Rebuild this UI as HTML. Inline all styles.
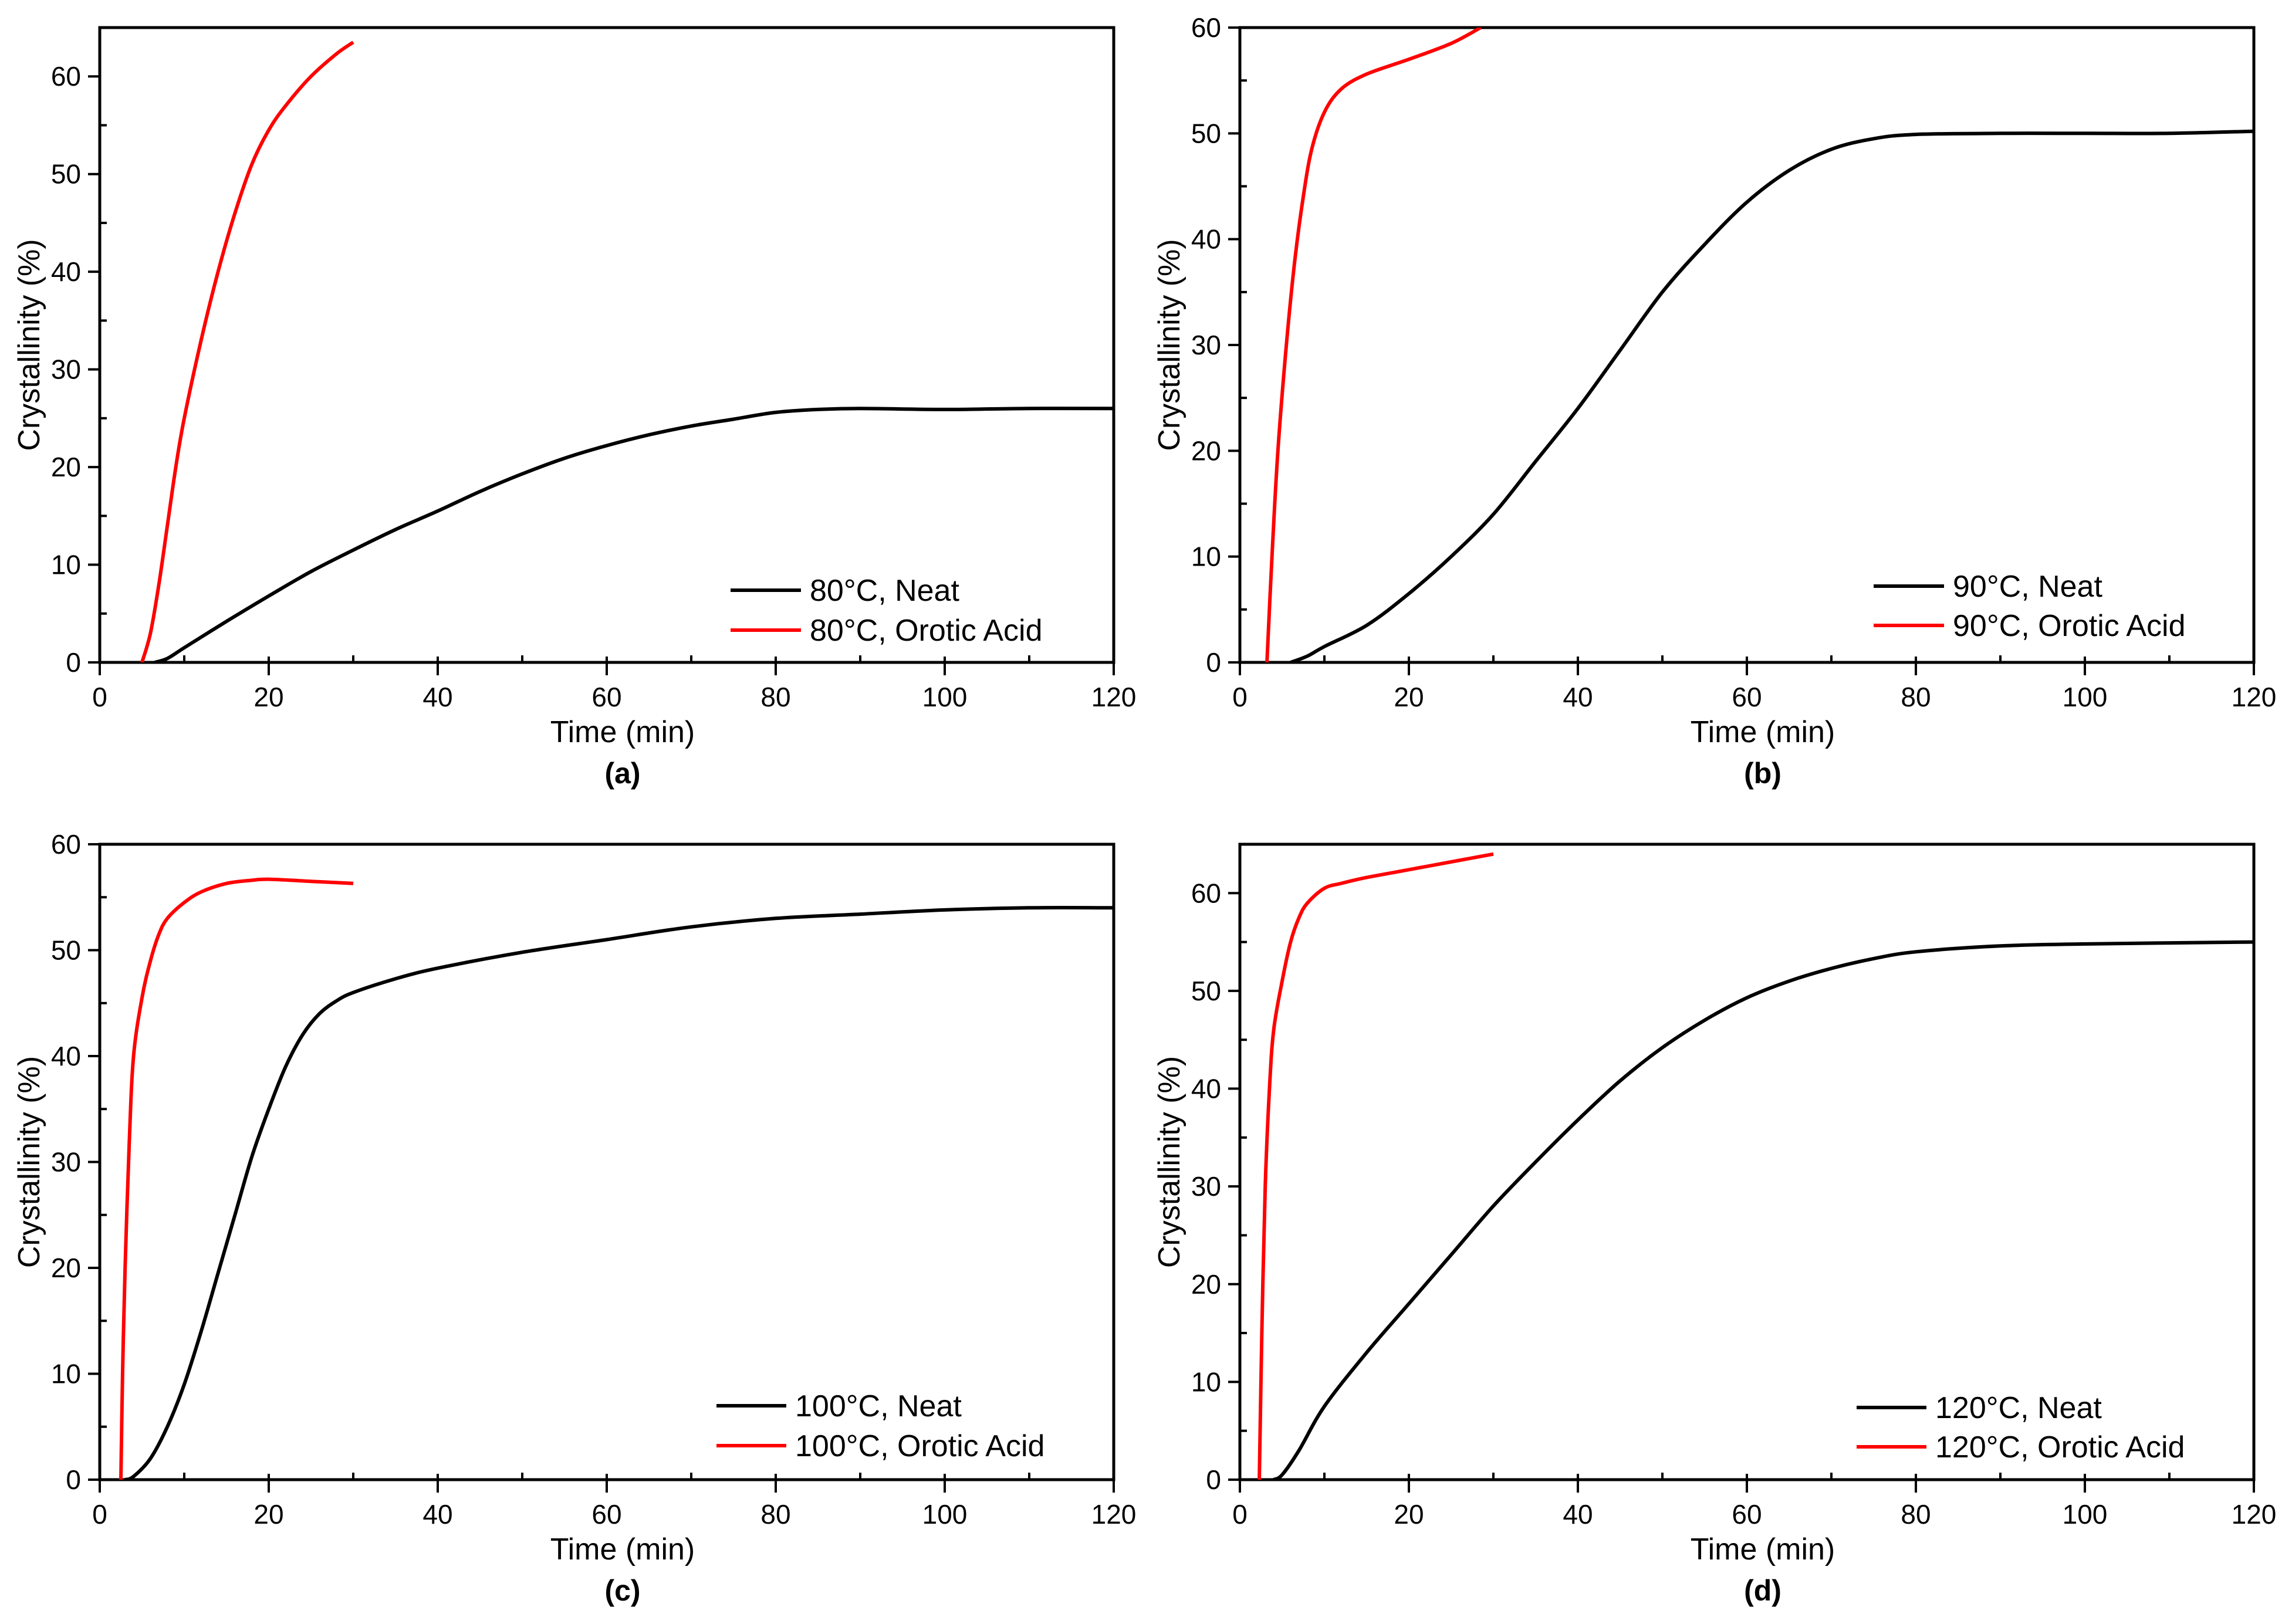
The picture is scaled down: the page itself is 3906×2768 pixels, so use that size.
<!DOCTYPE html>
<html><head><meta charset="utf-8">
<style>
html,body{margin:0;padding:0;background:#fff;}
svg{display:block;font-family:"Liberation Sans",Arial,sans-serif;}
</style></head>
<body>
<svg id="fig" width="3906" height="2768" viewBox="0 0 3906 2768" xmlns="http://www.w3.org/2000/svg"></svg>
<script>
const xTicks = [0,20,40,60,80,100,120];
const labelsP = ["(a)","(b)","(c)","(d)"];
const legendNeat = ["80°C, Neat","90°C, Neat","100°C, Neat","120°C, Neat"];
const legendOA = ["80°C, Orotic Acid","90°C, Orotic Acid","100°C, Orotic Acid","120°C, Orotic Acid"];
const yMaxs = [65,60,60,65];
const aNeatT = [6.5,8,10,15,20,25,30,35,40,45,50,55,60,65,70,75,80,85,90,100,110,120];
const aNeatV = [0,0.4,1.5,4.2,6.8,9.3,11.5,13.6,15.5,17.5,19.3,20.9,22.2,23.3,24.2,24.9,25.6,25.9,26,25.9,26,26];
const aOAT = [5,6,7,8,9,10,12,14,16,18,20,22,25,28,30];
const aOAV = [0,3,8,14,20,25,33,40,46,51,54.5,57,60,62.3,63.5];
const bNeatT = [6,8,10,15,20,25,30,35,40,45,50,55,60,65,70,75,80,90,100,110,120];
const bNeatV = [0,0.6,1.5,3.5,6.5,10,14,19,24,29.5,35,39.5,43.5,46.5,48.5,49.5,49.9,50,50,50,50.2];
const bOAT = [3.2,3.8,4.5,5.5,6.5,7.5,8.5,10,12,15,20,25,28.5];
const bOAV = [0,10,20,30,38,44,48.5,52,54.2,55.6,57,58.5,60];
const cNeatT = [3,4,6,8,10,12,14,16,18,20,22,24,26,28,30,35,40,50,60,70,80,90,100,110,120];
const cNeatV = [0,0.3,2,5,9,14,19.5,25,30.5,35,39,42,44,45.2,46,47.3,48.3,49.8,51,52.2,53,53.4,53.8,54,54];
const cOAT = [2.5,2.7,3,3.5,4,5,6,7,8,10,12,15,18,20,25,30];
const cOAV = [0,10,20,32,40,45.5,49,51.5,53,54.5,55.5,56.3,56.6,56.7,56.5,56.3];
const dNeatT = [4,5,7,10,15,20,25,30,35,40,45,50,55,60,65,70,75,80,90,100,120];
const dNeatV = [0,0.5,3,7.5,13,18,23,28,32.5,36.8,40.8,44.2,47,49.3,51,52.3,53.3,54,54.6,54.8,55];
const dOAT = [2.3,2.6,3,3.5,4,5,6,7,8,10,12,15,20,25,30];
const dOAV = [0,15,30,40,46,51,55,57.5,59,60.5,61,61.6,62.4,63.2,64];

const NS="http://www.w3.org/2000/svg";
const svg=document.getElementById('fig');
function mk(tag,attrs,parent,txt){const e=document.createElementNS(NS,tag);for(const k in attrs)e.setAttribute(k,attrs[k]);if(txt!==undefined)e.textContent=txt;(parent||svg).appendChild(e);return e;}
function smooth(pts){
 let d='M'+pts[0][0].toFixed(1)+','+pts[0][1].toFixed(1);
 for(let i=0;i<pts.length-1;i++){
  const p0=pts[Math.max(0,i-1)],p1=pts[i],p2=pts[i+1],p3=pts[Math.min(pts.length-1,i+2)];
  const c1=[p1[0]+(p2[0]-p0[0])/6,p1[1]+(p2[1]-p0[1])/6];
  const c2=[p2[0]-(p3[0]-p1[0])/6,p2[1]-(p3[1]-p1[1])/6];
  d+=` C${c1[0].toFixed(1)},${c1[1].toFixed(1)} ${c2[0].toFixed(1)},${c2[1].toFixed(1)} ${p2[0].toFixed(1)},${p2[1].toFixed(1)}`;
 }
 return d;
}
const panels=[
 {x0:170,x1:1898,y0:1129,y1:47,neat:[aNeatT,aNeatV],oa:[aOAT,aOAV],leg:[1245,1365,1380,1006,1074],yt:50},
 {x0:2113,x1:3841,y0:1129,y1:47,neat:[bNeatT,bNeatV],oa:[bOAT,bOAV],leg:[3193,3313,3328,999,1066],yt:1993},
 {x0:170,x1:1898,y0:2522,y1:1439,neat:[cNeatT,cNeatV],oa:[cOAT,cOAV],leg:[1221,1340,1355,2396,2464],yt:50},
 {x0:2113,x1:3841,y0:2522,y1:1439,neat:[dNeatT,dNeatV],oa:[dOAT,dOAV],leg:[3164,3283,3298,2399,2466],yt:1993}
];
panels.forEach((p,i)=>{
 const g=mk('g',{});
 
 
 const ymax=yMaxs[i];
 const X=t=>p.x0+(t/120)*(p.x1-p.x0);
 const Y=v=>p.y0-(v/ymax)*(p.y0-p.y1);
 const fr=mk('rect',{x:p.x0,y:p.y1,width:p.x1-p.x0,height:p.y0-p.y1,fill:'none',stroke:'#000','stroke-width':5},g);
 
 
 for(let t=0;t<=120;t+=10){
  const major=xTicks.indexOf(t)>=0;
  mk('line',{x1:X(t),x2:X(t),y1:major?p.y0-10:p.y0-12,y2:major?p.y0+22:p.y0,stroke:'#000','stroke-width':4},g);
 }
 xTicks.forEach(t=>{
  const tl=mk('text',{x:X(t),y:p.y0+75,'font-size':46,'text-anchor':'middle'},g,String(t));
  
  
 });
 for(let v=0;v<=ymax;v+=5){
  const major=v%10===0;
  mk('line',{x1:major?p.x0-20:p.x0,x2:major?p.x0:p.x0+12,y1:Y(v),y2:Y(v),stroke:'#000','stroke-width':4},g);
  if(major){
   const yl=mk('text',{x:p.x0-32,y:Y(v)+16,'font-size':46,'text-anchor':'end'},g,String(v));
   
   
  }
 }
 const cx=(p.x0+p.x1)/2+27;
 const xt=mk('text',{x:cx,y:p.y0+136,'font-size':52,'text-anchor':'middle'},g,'Time (min)');
 
 
 const yc=(p.y0+p.y1)/2;
 const yt=mk('text',{x:p.yt+17,y:yc,'font-size':52,'text-anchor':'middle',transform:`rotate(-90 ${p.yt+17} ${yc})`},g,'Crystallinity (%)');
 
 
 const pl=mk('text',{x:cx,y:p.y0+206,'font-size':50,'font-weight':'bold','text-anchor':'middle'},g,labelsP[i]);
 
 
 const cp=mk('clipPath',{id:'clip'+i},g);
 mk('rect',{x:p.x0,y:p.y1,width:p.x1-p.x0,height:p.y0-p.y1},cp);
 const path=(T,V)=>smooth(T.map((t,k)=>[X(t),Y(V[k])]));
 const n=mk('path',{d:path(p.neat[0],p.neat[1]),fill:'none',stroke:'#000','stroke-width':6,'stroke-linejoin':'round','clip-path':`url(#clip${i})`},g);
 
 
 const o=mk('path',{d:path(p.oa[0],p.oa[1]),fill:'none',stroke:'#ff0000','stroke-width':6,'stroke-linejoin':'round','clip-path':`url(#clip${i})`},g);
 
 
 const L=p.leg;
 const lg=mk('g',{},g);
 
 
 mk('line',{x1:L[0],x2:L[1],y1:L[3],y2:L[3],stroke:'#000','stroke-width':6},lg);
 const t1=mk('text',{x:L[2],y:L[3]+18,'font-size':52},lg,legendNeat[i]);
 
 
 mk('line',{x1:L[0],x2:L[1],y1:L[4],y2:L[4],stroke:'#ff0000','stroke-width':6},lg);
 const t2=mk('text',{x:L[2],y:L[4]+18,'font-size':52},lg,legendOA[i]);
 
 
});
</script>
</body></html>
